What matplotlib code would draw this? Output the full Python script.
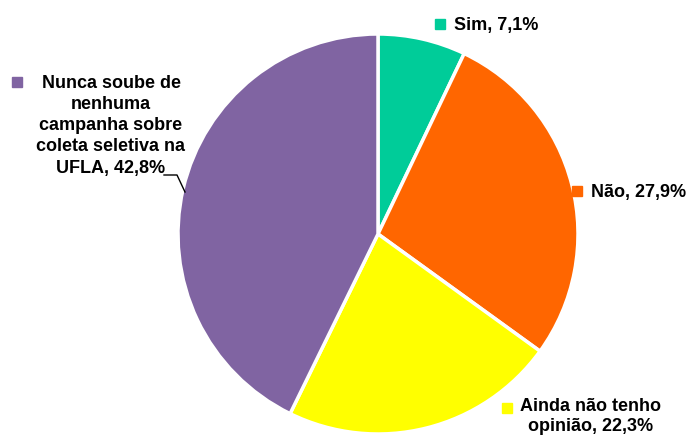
import matplotlib.pyplot as plt
from matplotlib.patches import Rectangle

plt.rcParams['font.family'] = ['Liberation Sans', 'DejaVu Sans']

labels = ['Sim', 'Não', 'Ainda não tenho\nopinião', 'Nunca soube de\nnenhuma\ncampanha sobre\ncoleta seletiva na\nUFLA']
values = [7.1, 27.9, 22.3, 42.8]
colors = ['#00CC99', '#FF6600', '#FFFF00', '#8064A2']

W, H = 689, 439
fig = plt.figure(figsize=(W / 100, H / 100), dpi=100)
ax = fig.add_axes([0, 0, 1, 1])

cx, cy, r = 378, H - 235, 200
ax.pie(values, colors=colors, startangle=90, counterclock=False,
       center=(cx, cy), radius=r, frame=True,
       wedgeprops=dict(edgecolor='white', linewidth=2.5))
ax.set_xlim(0, W)
ax.set_ylim(0, H)
ax.set_aspect('equal')
ax.axis('off')


def fmt(v):
    return ('%.1f' % v).replace('.', ',') + '%'


# label anchor: (marker x, marker y, text center x, text top y, line spacing)
spots = [
    (440, 25, None, None, None),
    (577, 192, None, None, None),
    (507, 409, 591, 398, 1.25),
    (17, 83, 111, 75, 1.32),
]

for lab, v, col, (mx, my, tx, ty, ls) in zip(labels, values, colors, spots):
    ax.add_patch(Rectangle((mx - 5, H - my - 5), 10, 10, color=col, zorder=3))
    txt = lab + ', ' + fmt(v)
    if tx is None:
        ax.text(mx + 14, H - my, txt, fontsize=13, fontweight='bold',
                ha='left', va='center')
    else:
        ax.text(tx, H - ty, txt, fontsize=13, fontweight='bold',
                ha='center', va='top', multialignment='center',
                linespacing=ls)

# leader line for the large slice
ax.plot([164, 177, 185], [H - 176, H - 176, H - 193], color='black', lw=1)

fig.savefig('out.png', dpi=100, facecolor='white')
